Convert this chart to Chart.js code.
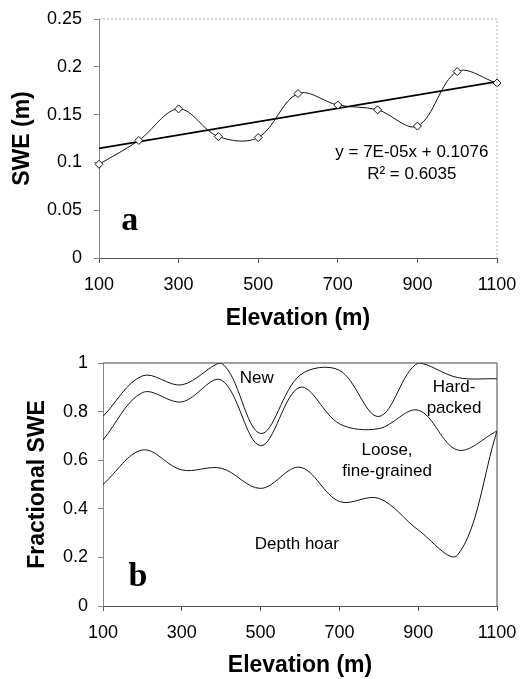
<!DOCTYPE html>
<html>
<head>
<meta charset="utf-8">
<script src="https://cdn.jsdelivr.net/npm/chart.js@4"></script>
<style>
html, body { margin: 0; padding: 0; background: #fff; width: 521px; height: 679px; overflow: hidden; }
#chartA { position: absolute; left: 0; top: 0; }
#chartB { position: absolute; left: 0; top: 335px; }
</style>
</head>
<body>
<canvas id="chartA" width="521" height="335"></canvas>
<canvas id="chartB" width="521" height="344"></canvas>
<script>
// panel a: SWE vs elevation, with linear fit
var elevA = [100, 200, 300, 400, 500, 600, 700, 800, 900, 1000, 1100];
var sweA = [0.098, 0.123, 0.156, 0.127, 0.126, 0.172, 0.160, 0.155, 0.138, 0.195, 0.183];
var fitX = [100, 1100];
var fitY = [0.1146, 0.1846];
var xTicks = [100, 300, 500, 700, 900, 1100];
var yTicksA = [0, 0.05, 0.1, 0.15, 0.2, 0.25];

// panel b: fractional SWE by snow type (cumulative boundaries)
var elevB = [100, 200, 300, 400, 500, 600, 700, 800, 900, 1000, 1100];
var newTop = [0.78, 0.947, 0.91, 1.0, 0.71, 0.95, 0.97, 0.78, 1.0, 0.94, 0.935];
var hardTop = [0.683, 0.878, 0.84, 0.93, 0.66, 0.90, 0.75, 0.73, 0.806, 0.642, 0.72];
var looseTop = [0.50, 0.642, 0.56, 0.567, 0.484, 0.571, 0.43, 0.443, 0.313, 0.21, 0.72];
var yTicksB = [0, 0.2, 0.4, 0.6, 0.8, 1];

var F = "'Liberation Sans', Arial, sans-serif";
var SERIF = "'Liberation Serif', 'Times New Roman', serif";

function pts(xs, ys) {
  return xs.map(function (x, i) { return { x: x, y: ys[i] }; });
}

// top/right frame and text notes
var frame = {
  id: 'frame',
  afterDatasetsDraw: function (chart, args, opts) {
    var a = chart.chartArea, c = chart.ctx;
    c.save();
    c.strokeStyle = opts.color;
    c.lineWidth = 1;
    c.setLineDash(opts.dash || []);
    c.beginPath();
    c.moveTo(a.left, a.top);
    c.lineTo(a.right, a.top);
    c.lineTo(a.right, a.bottom);
    c.stroke();
    c.setLineDash([]);
    c.fillStyle = '#000';
    c.textAlign = 'center';
    c.textBaseline = 'middle';
    (opts.notes || []).forEach(function (n) {
      c.font = n.font;
      c.fillText(n.text, chart.scales.x.getPixelForValue(n.x), chart.scales.y.getPixelForValue(n.y));
    });
    c.restore();
  }
};

function xScale(h, padB) {
  return {
    type: 'linear', min: 100, max: 1100,
    afterBuildTicks: function (s) { s.ticks = xTicks.map(function (v) { return { value: v }; }); },
    afterFit: function (s) { s.height = h; s.paddingLeft = 0; s.paddingRight = 0; },
    grid: { drawOnChartArea: false, drawTicks: true, tickLength: 5, color: '#555' },
    border: { color: '#555', width: 1 },
    ticks: { font: { family: F, size: 18 }, color: '#000', padding: 11, maxRotation: 0, autoSkip: false,
      callback: function (v) { return String(v); } },
    title: { display: true, text: 'Elevation (m)', color: '#000',
      font: { family: F, size: 23, weight: 'bold' }, padding: { top: 0, bottom: padB } }
  };
}

function yScale(w, max, tickArr, text, pad, tpad) {
  return {
    min: 0, max: max,
    afterBuildTicks: function (s) { s.ticks = tickArr.map(function (v) { return { value: v }; }); },
    afterFit: function (s) { s.width = w; s.paddingTop = 0; s.paddingBottom = 0; },
    grid: { drawOnChartArea: false, drawTicks: true, tickLength: 5, color: '#888' },
    border: { color: '#888', width: 1 },
    ticks: { font: { family: F, size: 18 }, color: '#000', padding: pad,
      callback: function (v) { return String(+v.toFixed(2)); } },
    title: { display: true, text: text, color: '#000',
      font: { family: F, size: 23, weight: 'bold' }, padding: { top: tpad, bottom: 0 } }
  };
}

new Chart('chartA', {
  type: 'line',
  data: {
    datasets: [{
      label: 'SWE',
      data: pts(elevA, sweA),
      borderColor: '#111', borderWidth: 1, tension: 0.35, clip: false,
      pointStyle: 'rectRot', pointRadius: 4, pointBackgroundColor: '#fff',
      pointBorderColor: '#111', pointBorderWidth: 1
    }, {
      label: 'Linear',
      data: pts(fitX, fitY),
      borderColor: '#000', borderWidth: 1.8, pointRadius: 0, tension: 0
    }]
  },
  options: {
    responsive: false, animation: false,
    layout: { padding: { top: 19, right: 24, left: 0, bottom: 0 } },
    scales: { x: xScale(77, 3), y: yScale(99, 0.25, yTicksA, 'SWE (m)', 12, 9) },
    plugins: {
      legend: { display: false }, tooltip: { enabled: false },
      frame: {
        color: '#aaa', dash: [2, 2],
        notes: [
          { text: 'a', x: 177, y: 0.038, font: 'bold 34px ' + SERIF },
          { text: 'y = 7E-05x + 0.1076', x: 886, y: 0.111, font: '17px ' + F },
          { text: 'R\u00B2 = 0.6035', x: 886, y: 0.088, font: '17px ' + F }
        ]
      }
    }
  },
  plugins: [frame]
});

function band(ys) {
  return { data: pts(elevB, ys), borderColor: '#111', borderWidth: 1, tension: 0.35, pointRadius: 0 };
}

new Chart('chartB', {
  type: 'line',
  data: { datasets: [band(newTop), band(hardTop), band(looseTop)] },
  options: {
    responsive: false, animation: false,
    layout: { padding: { top: 28, right: 24, left: 0, bottom: 0 } },
    scales: { x: xScale(73, 0), y: yScale(103, 1, yTicksB, 'Fractional SWE', 10, 24) },
    plugins: {
      legend: { display: false }, tooltip: { enabled: false },
      frame: {
        color: '#444',
        notes: [
          { text: 'New', x: 490, y: 0.938, font: '17px ' + F },
          { text: 'Hard-', x: 991, y: 0.902, font: '17px ' + F },
          { text: 'packed', x: 991, y: 0.815, font: '17px ' + F },
          { text: 'Loose,', x: 821, y: 0.642, font: '17px ' + F },
          { text: 'fine-grained', x: 821, y: 0.553, font: '17px ' + F },
          { text: 'Depth hoar', x: 592, y: 0.255, font: '17px ' + F },
          { text: 'b', x: 189, y: 0.12, font: 'bold 34px ' + SERIF }
        ]
      }
    }
  },
  plugins: [frame]
});
</script>
</body>
</html>
